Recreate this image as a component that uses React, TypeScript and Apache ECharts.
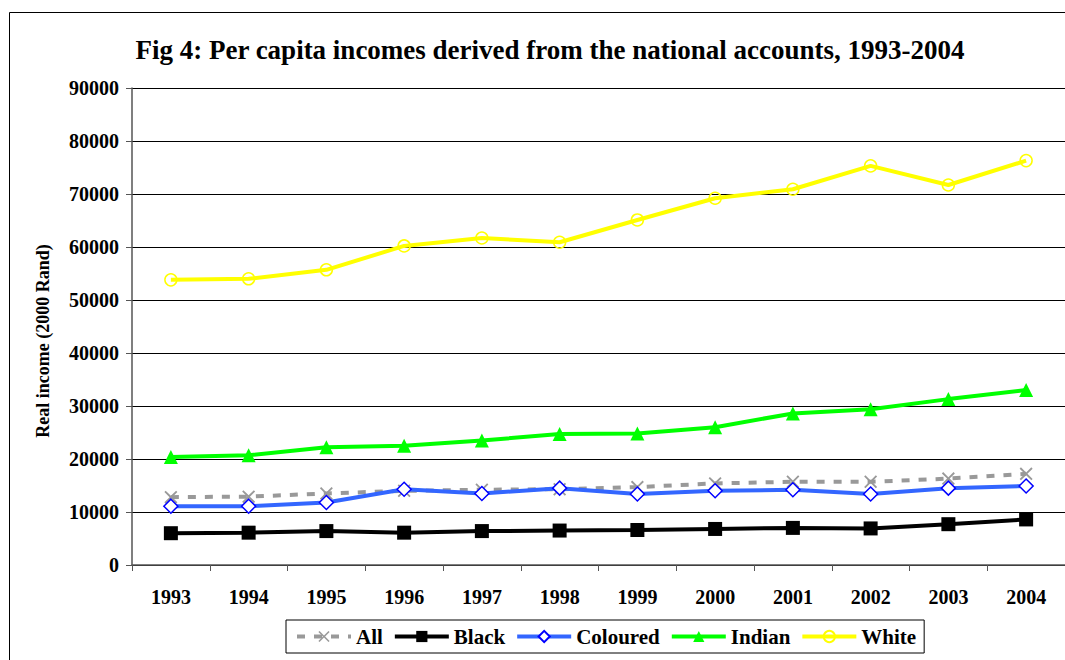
import React, { useEffect, useRef } from "react";
import * as echarts from "echarts";

const years = ["1993", "1994", "1995", "1996", "1997", "1998", "1999", "2000", "2001", "2002", "2003", "2004"];
const allValues = [12800, 12900, 13500, 14000, 14200, 14300, 14700, 15400, 15700, 15700, 16300, 17200];
const blackValues = [6000, 6100, 6400, 6100, 6400, 6500, 6600, 6800, 7000, 6900, 7700, 8600];
const colouredValues = [11100, 11100, 11800, 14300, 13500, 14500, 13400, 14000, 14200, 13400, 14500, 14900];
const indianValues = [20400, 20700, 22200, 22500, 23500, 24700, 24800, 26000, 28600, 29400, 31300, 33000];
const whiteValues = [53800, 54000, 55700, 60200, 61700, 60900, 65100, 69200, 70900, 75300, 71700, 76300];

const FONT = "'Liberation Serif', 'Times New Roman', serif";
const X_SYMBOL = "path://M0,1 L1,0 L5,4 L9,0 L10,1 L6,5 L10,9 L9,10 L5,6 L1,10 L0,9 L4,5 Z";

export default function App() {
  const ref = useRef<HTMLDivElement>(null);
  useEffect(() => {
    if (!ref.current) return;
    const chart = echarts.init(ref.current, undefined, { renderer: "svg" });
    chart.setOption({
      animation: false,
      backgroundColor: "#ffffff",
      title: {
        text: "Fig 4: Per capita incomes derived from the national accounts, 1993-2004",
        left: 545,
        top: 31,
        textAlign: "center",
        textStyle: { fontFamily: FONT, fontWeight: "bold", fontSize: 27, color: "#000" },
      },
      graphic: [
        {
          type: "rect",
          shape: { x: 9.5, y: 12.5, width: 1100, height: 700 },
          style: { fill: "none", stroke: "#000", lineWidth: 1 },
          z: 100,
          silent: true,
        },
        {
          type: "text",
          x: 43,
          y: 341,
          rotation: Math.PI / 2,
          style: {
            text: "Real income (2000 Rand)",
            fontFamily: FONT,
            fontWeight: "bold",
            fontSize: 18,
            fill: "#000",
            align: "center",
            verticalAlign: "middle",
          },
        },
      ],
      grid: { left: 132, top: 88, right: 0, bottom: 95 },
      legend: {
        left: 286,
        top: 620,
        itemGap: 10,
        itemWidth: 54,
        itemHeight: 14,
        padding: [6, 8, 6, 9],
        borderColor: "#000",
        borderWidth: 1,
        lineStyle: { width: 4 },
        textStyle: { fontFamily: FONT, fontWeight: "bold", fontSize: 21, color: "#000" },
        data: ["All", "Black", "Coloured", "Indian", "White"],
      },
      xAxis: {
        type: "category",
        data: years,
        boundaryGap: true,
        axisLine: { lineStyle: { color: "#555", width: 1.5 } },
        axisTick: { show: true, inside: false, length: 6, alignWithLabel: false, lineStyle: { color: "#555" } },
        axisLabel: { margin: 22, fontFamily: FONT, fontWeight: "bold", fontSize: 20, color: "#000" },
      },
      yAxis: {
        type: "value",
        min: 0,
        max: 90000,
        interval: 10000,
        axisLine: { show: true, lineStyle: { color: "#555", width: 1.5 } },
        axisTick: { show: true, inside: false, length: 6, lineStyle: { color: "#555" } },
        axisLabel: {
          margin: 13,
          fontFamily: FONT,
          fontWeight: "bold",
          fontSize: 20,
          color: "#000",
          formatter: (v: number) => String(v),
        },
        splitLine: { lineStyle: { color: "#000", width: 1 } },
      },
      series: [
        {
          name: "All",
          type: "line",
          data: allValues,
          symbol: X_SYMBOL,
          symbolSize: 13,
          lineStyle: { color: "#999999", width: 4, type: [8, 9] },
          itemStyle: { color: "#999999" },
          z: 2,
        },
        {
          name: "Black",
          type: "line",
          data: blackValues,
          symbol: "rect",
          symbolSize: 14,
          lineStyle: { color: "#000000", width: 4 },
          itemStyle: { color: "#000000" },
          z: 3,
        },
        {
          name: "Coloured",
          type: "line",
          data: colouredValues,
          symbol: "diamond",
          symbolSize: 14,
          lineStyle: { color: "#3366FF", width: 4 },
          itemStyle: { color: "#ffffff", borderColor: "#0000FF", borderWidth: 1.5 },
          z: 4,
        },
        {
          name: "Indian",
          type: "line",
          data: indianValues,
          symbol: "triangle",
          symbolSize: 14,
          lineStyle: { color: "#00FF00", width: 4 },
          itemStyle: { color: "#00FF00" },
          z: 5,
        },
        {
          name: "White",
          type: "line",
          data: whiteValues,
          symbol: "circle",
          symbolSize: 12,
          lineStyle: { color: "#FFFF00", width: 4 },
          itemStyle: { color: "rgba(255,255,255,0)", borderColor: "#FFFF00", borderWidth: 1.5 },
          z: 6,
        },
      ],
    });
    return () => chart.dispose();
  }, []);
  return (
    <div style={{ position: "fixed", left: 0, top: 0, width: 1065, height: 660, background: "#fff" }}>
      <div ref={ref} style={{ width: 1065, height: 660 }} />
    </div>
  );
}
